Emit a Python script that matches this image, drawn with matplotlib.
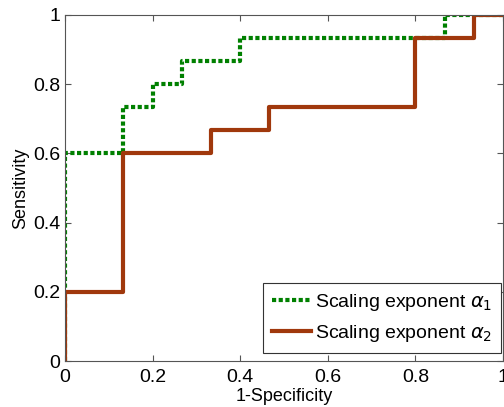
import matplotlib
matplotlib.use("Agg")
import matplotlib.pyplot as plt

plt.rcParams['font.family'] = ['Liberation Sans', 'DejaVu Sans']

# ROC step coordinates (1-specificity, sensitivity)
fpr_a1 = [0, 0, 2/15, 2/15, 3/15, 3/15, 4/15, 4/15, 6/15, 6/15, 13/15, 13/15, 1]
tpr_a1 = [0, 0.6, 0.6, 11/15, 11/15, 12/15, 12/15, 13/15, 13/15, 14/15, 14/15, 1, 1]

fpr_a2 = [0, 0, 2/15, 2/15, 5/15, 5/15, 7/15, 7/15, 12/15, 12/15, 14/15, 14/15, 1]
tpr_a2 = [0, 0.2, 0.2, 0.6, 0.6, 10/15, 10/15, 11/15, 11/15, 14/15, 14/15, 1, 1]

ticks = [0, 0.2, 0.4, 0.6, 0.8, 1]
tick_labels = ['0', '0.2', '0.4', '0.6', '0.8', '1']


def main():
    fig = plt.figure(figsize=(5.04, 4.07), dpi=100)
    ax = fig.add_axes([65 / 504, 1 - 361 / 407, 438 / 504, 346 / 407])

    ax.plot(fpr_a1, tpr_a1, color="#008000", linestyle=(0, (1, 0.6)),
            linewidth=3, label=r"Scaling exponent $\alpha_1$")
    ax.plot(fpr_a2, tpr_a2, color="#A0380C", linewidth=3,
            label=r"Scaling exponent $\alpha_2$")

    ax.set_xlim(0, 1)
    ax.set_ylim(0, 1)
    ax.set_xticks(ticks)
    ax.set_xticklabels(tick_labels)
    ax.set_yticks(ticks)
    ax.set_yticklabels(tick_labels)
    ax.tick_params(direction="in", top=True, right=True, labelsize=14,
                   color="#555555", length=4)
    ax.tick_params(axis="x", pad=6)
    for s in ax.spines.values():
        s.set_color("#555555")

    ax.set_xlabel("1-Specificity", fontsize=13, labelpad=1)
    ax.set_ylabel("Sensitivity", fontsize=13, labelpad=3)

    leg = ax.legend(loc="lower right", bbox_to_anchor=(1 - 2 / 438, 8 / 346),
                    fontsize=14, fancybox=False, edgecolor="#333333",
                    framealpha=1, handlelength=2.0, handletextpad=0.2,
                    borderpad=0.45, labelspacing=0.55, borderaxespad=0)
    leg.get_frame().set_linewidth(0.8)

    fig.savefig("out.png", dpi=100)


if __name__ == "__main__":
    main()
